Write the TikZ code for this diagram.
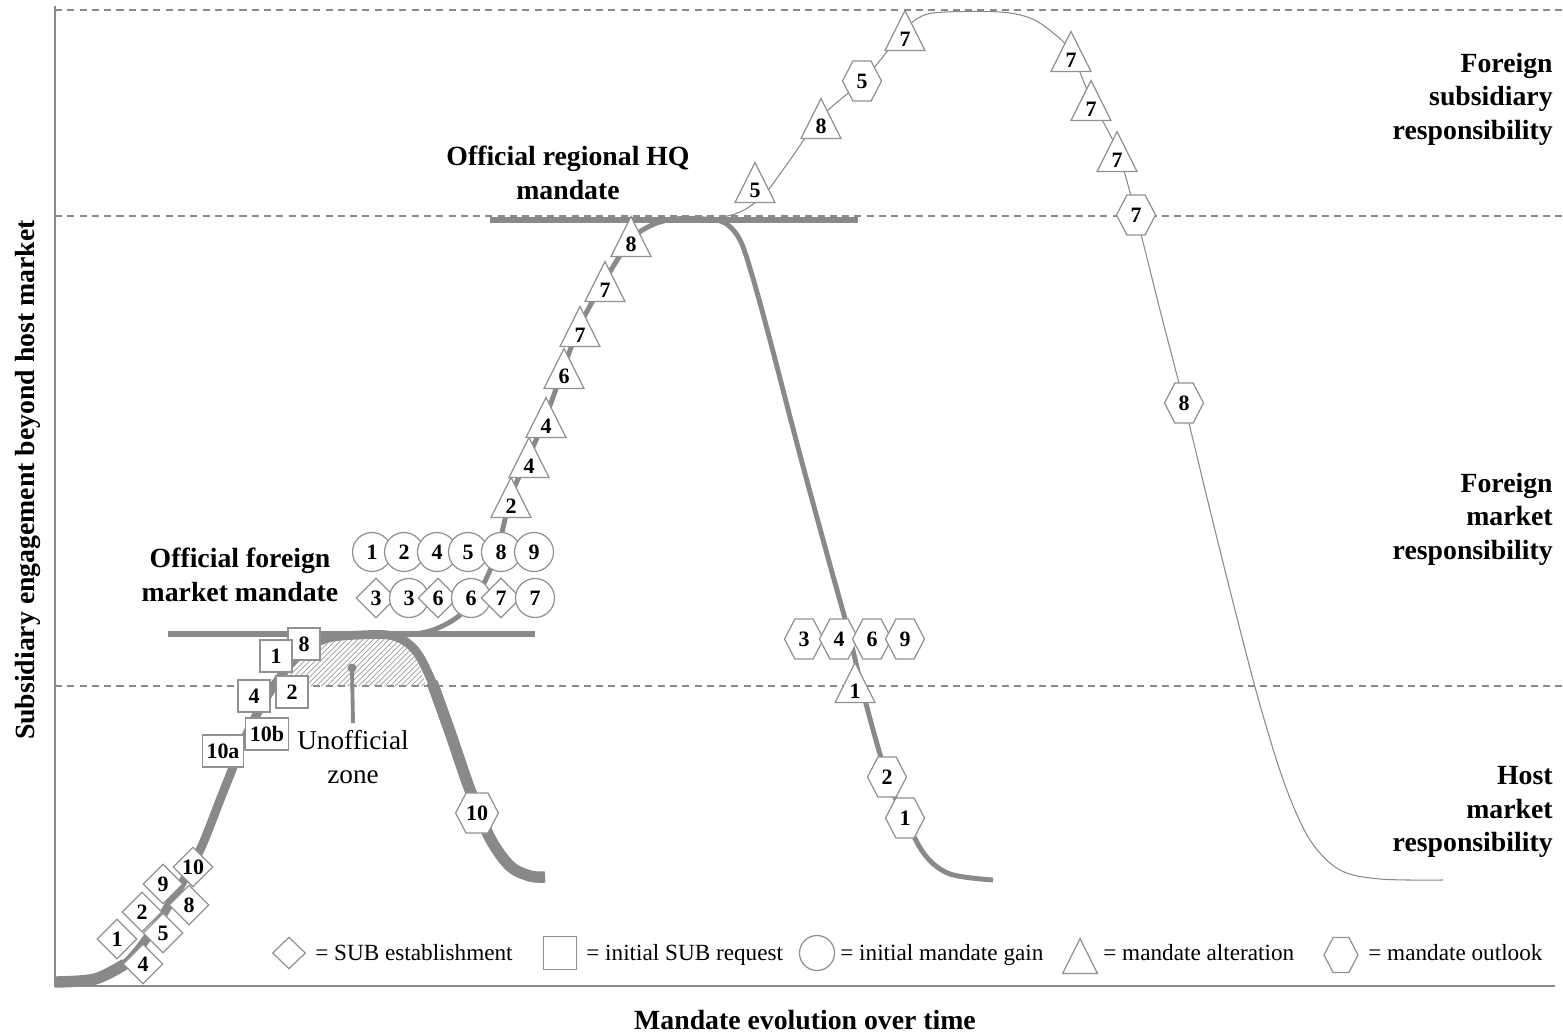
\documentclass[tikz,border=0pt]{standalone}
\usepackage{fontspec}
\setmainfont{Liberation Serif}
\usetikzlibrary{shapes.geometric,shapes.symbols,patterns}

\definecolor{courbe}{RGB}{137,137,137}
\definecolor{contour}{RGB}{145,145,145}

\begin{document}
\begin{tikzpicture}[x=0.02cm, y=-0.02cm, font=\fontsize{13.2}{16}\selectfont]
        \tikzstyle{sym} = [draw=contour, fill=white, line width=0.7pt, inner sep=0pt,
                           font=\fontsize{12.5}{13}\selectfont\bfseries]
        \tikzstyle{dia} = [sym, diamond, minimum width=0.8cm, minimum height=0.8cm]
        \tikzstyle{sqr} = [sym, rectangle, inner xsep=2.5pt, minimum size=0.64cm]
        \tikzstyle{circ} = [sym, circle, minimum size=0.78cm]
        \tikzstyle{tri} = [sym, isosceles triangle, shape border rotate=90, isosceles triangle stretches,
                           minimum width=0.8cm, minimum height=0.8cm, anchor=apex]
        \tikzstyle{hexa} = [sym, signal, signal to=east and west, signal pointer angle=125,
                            minimum width=0.78cm, minimum height=0.8cm]
        \tikzstyle{titre} = [font=\fontsize{15.8}{19}\selectfont\bfseries, align=center, inner sep=0pt]
        \tikzstyle{niveau} = [titre, align=right, anchor=east]
        \tikzstyle{pointille} = [draw=courbe, line width=0.85pt, dash pattern=on 4pt off 3pt]
        \tikzstyle{legende} = [anchor=base west, inner sep=0pt]

        \useasboundingbox (0,0) rectangle (1563,1034);

        % Niveaux (lignes pointillees)
        \draw[pointille] (55,10) -- (1563,10);
        \draw[pointille] (55,216) -- (1563,216);
        \draw[pointille] (55,686) -- (1563,686);

        % Zone non officielle (hachures)
        \fill[pattern=north east lines, pattern color=courbe!85]
            plot[smooth] coordinates {(286,686) (298,660) (325,642) (360,638) (393,639) (413,652) (426,686)} -- cycle;

        % Axes
        \draw[courbe, line width=1.3pt] (55,6) -- (55,986) -- (1555,986);

        % Mandats officiels
        \draw[courbe, line width=3.2pt] (168,634) -- (535,634);
        \draw[courbe, line width=3pt] (490,220) -- (858,220);

        % Courbe epaisse
        \draw[courbe, line width=5pt, line cap=butt] plot[smooth, tension=0.55] coordinates {
            (55,982) (95,979) (125,964) (150,934) (175,895) (200,850) (222,795) (245,738)
            (262,705) (278,680) (298,656) (325,639) (360,635) (393,636) (415,650) (432,682)
            (450,732) (470,790) (490,838) (510,866) (530,876) (545,877)};
        \draw[courbe, line width=6.5pt, line cap=butt] plot[smooth, tension=0.55] coordinates {
            (432,682) (450,732) (470,790) (490,838) (510,866) (530,876) (545,877)};
        \draw[courbe, line width=6.5pt, line cap=butt] plot[smooth, tension=0.55] coordinates {
            (55,982) (95,979) (125,964)};

        % Courbe moyenne
        \draw[courbe, line width=2.8pt] plot[smooth, tension=0.55] coordinates {
            (395,636) (430,631) (460,615) (483,585) (498,548) (511,496) (529,456) (546,416)
            (564,367) (580,325) (605,280) (631,240) (652,225) (675,219) (705,219) (725,223)
            (740,240) (752,275) (770,340) (800,455) (830,565) (848,630) (865,700) (887,777)
            (905,818) (925,855) (950,874) (993,880)};

        % Courbe fine
        \draw[courbe, line width=0.6pt] plot[smooth, tension=0.55] coordinates {
            (712,219) (735,214) (752,205) (768,190) (790,160) (821,117) (862,81) (890,48)
            (905,29) (922,16) (945,12) (1000,12) (1030,18) (1052,32) (1071,52) (1091,99)
            (1117,150) (1136,215) (1160,310) (1184,403) (1210,510) (1235,610) (1260,705)
            (1285,785) (1310,840) (1340,870) (1380,879) (1443,880)};

        % Etablissement
        \node[dia] (d1) at (117,939) {1};
        \node[dia] (d4) at (143,964) {4};
        \node[dia] (d2) at (142,912) {2};
        \node[dia] (d5) at (163,933) {5};
        \node[dia] (d9) at (163,884) {9};
        \node[dia] (d8) at (189,905) {8};
        \node[dia] (d10) at (193,867) {10};

        % Demandes initiales
        \node[sqr] (s10a) at (223,751) {10a};
        \node[sqr] (s10b) at (267,734) {10b};
        \node[sqr] (s4) at (254,696) {4};
        \node[sqr] (s2) at (292,692) {2};
        \node[sqr] (s8) at (304,644) {8};
        \node[sqr] (s1) at (276,656) {1};

        % Gains de mandat
        \node[circ] (c1) at (372,552) {1};
        \node[circ] (c2) at (404,552) {2};
        \node[circ] (c4) at (437,552) {4};
        \node[circ] (c5) at (468,552) {5};
        \node[circ] (c8) at (501,552) {8};
        \node[circ] (c9) at (534,552) {9};
        \node[dia] (d3b) at (376,598) {3};
        \node[circ] (c3) at (409,598) {3};
        \node[dia] (d6b) at (438,598) {6};
        \node[circ] (c6) at (471,598) {6};
        \node[dia] (d7b) at (501,598) {7};
        \node[circ] (c7) at (535,598) {7};

        % Alterations
        \node[tri] (t2) at (511,476) {2};
        \node[tri] (t4a) at (529,436) {4};
        \node[tri] (t4b) at (546,396) {4};
        \node[tri] (t6) at (564,347) {6};
        \node[tri] (t7a) at (580,305) {7};
        \node[tri] (t7b) at (605,260) {7};
        \node[tri] (t8) at (631,215) {8};
        \node[tri] (t5u) at (755,161) {5};
        \node[tri] (t8u) at (821,97) {8};
        \node[tri] (t7u) at (905,9) {7};
        \node[tri] (t7c) at (1071,30) {7};
        \node[tri] (t7d) at (1091,79) {7};
        \node[tri] (t7e) at (1117,130) {7};
        \node[tri] (t1) at (855,661) {1};

        % Perspectives
        \node[hexa] (h5) at (862,81) {5};
        \node[hexa] (h7) at (1136,215) {7};
        \node[hexa] (h8) at (1184,403) {8};
        \node[hexa] (h3) at (804,639) {3};
        \node[hexa] (h4) at (839,639) {4};
        \node[hexa] (h6) at (872,639) {6};
        \node[hexa] (h9) at (905,639) {9};
        \node[hexa] (h2) at (887,777) {2};
        \node[hexa] (h1) at (905,818) {1};
        \node[hexa] (h10) at (477,813) {10};

        % Titres
        \node[titre] (offfm) at (240,575) {Official foreign\\market mandate};
        \node[titre] (offhq) at (568,173) {Official regional HQ\\mandate};
        \node[niveau] (fsr) at (1553,99) {Foreign\\subsidiary\\responsibility};
        \node[niveau] (fmr) at (1553,519) {Foreign\\market\\responsibility};
        \node[niveau] (hmr) at (1553,812) {Host\\market\\responsibility};
        \node[titre, rotate=90] (yaxe) at (28,480) {Subsidiary engagement beyond host market};
        \node[titre] (xaxe) at (805,1020) {Mandate evolution over time};

        % Zone non officielle
        \node[font=\fontsize{15.5}{19}\selectfont, align=center, inner sep=4pt] (uz) at (353,757) {Unofficial\\zone};
        \coordinate (zpt) at (352,668);
        \draw[courbe, line width=2.2pt] (zpt) -- (uz.north);
        \fill[courbe] (zpt) circle (0.09cm);

        % Legende
        \node[dia, minimum width=0.66cm, minimum height=0.64cm] (ldia) at (289,953) {};
        \node[legende] (tdia) at (315,960) {= SUB establishment};
        \node[sqr, minimum size=0.66cm] (lsqr) at (560,953) {};
        \node[legende] (tsqr) at (586,960) {= initial SUB request};
        \node[circ, minimum size=0.7cm] (lcirc) at (817,953) {};
        \node[legende] (tcirc) at (840,960) {= initial mandate gain};
        \node[tri, minimum width=0.7cm, minimum height=0.7cm] (ltri) at (1080,937) {};
        \node[legende] (ttri) at (1103,960) {= mandate alteration};
        \node[hexa, minimum width=0.68cm, minimum height=0.7cm] (lhexa) at (1341,955) {};
        \node[legende] (thexa) at (1368,960) {= mandate outlook};
\end{tikzpicture}
\end{document}
